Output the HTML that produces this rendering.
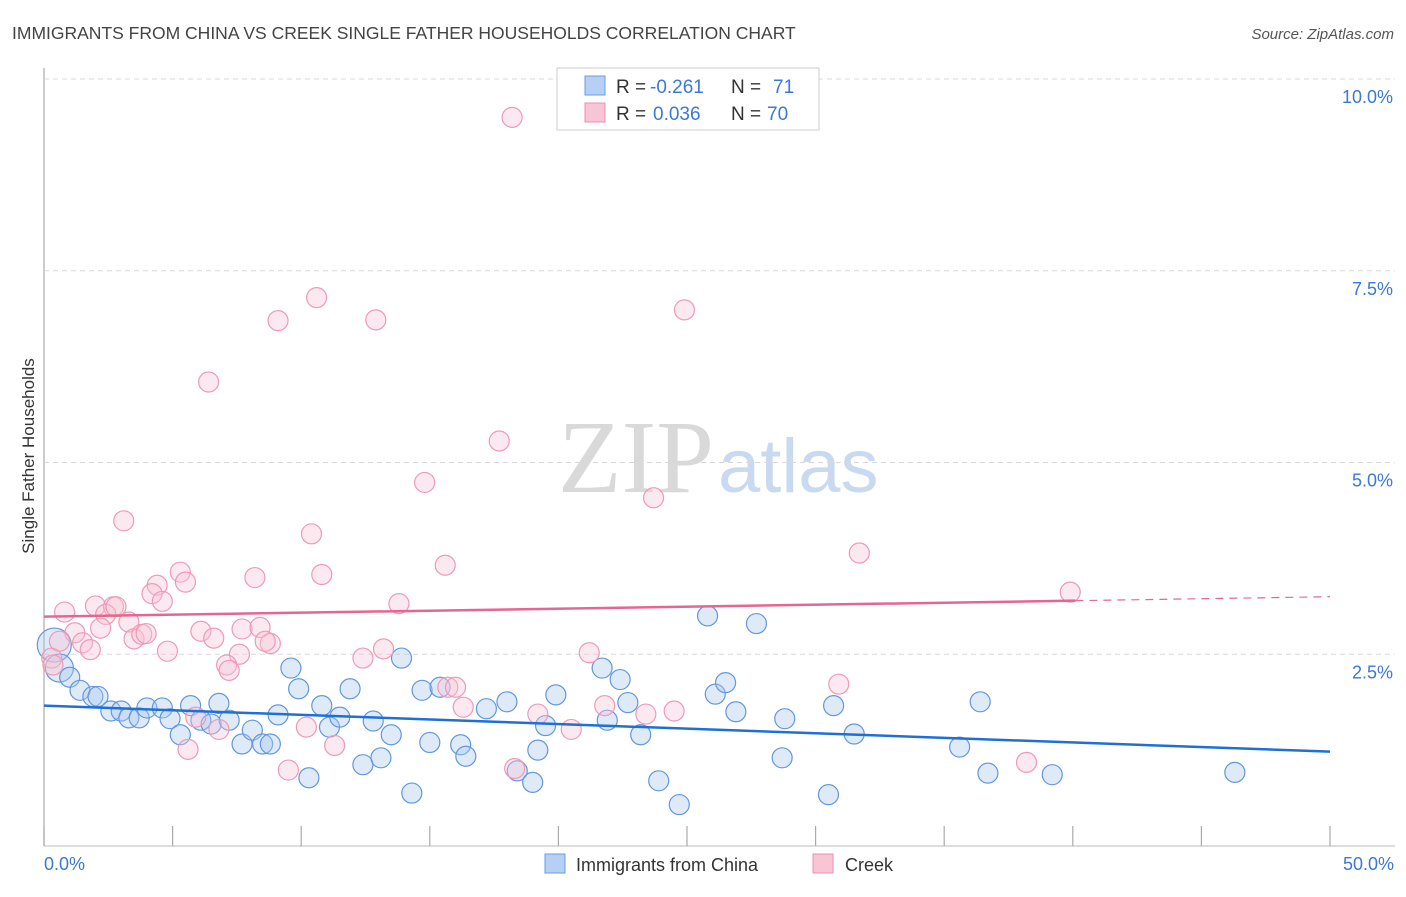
<!DOCTYPE html>
<html><head><meta charset="utf-8"><style>
body{margin:0;background:#fff;font-family:"Liberation Sans",sans-serif}
svg text{font-family:"Liberation Sans",sans-serif}
</style></head><body>
<svg id="chart" width="1406" height="892" xmlns="http://www.w3.org/2000/svg">
<text x="12" y="39" font-size="17.5" fill="#444">IMMIGRANTS FROM CHINA VS CREEK SINGLE FATHER HOUSEHOLDS CORRELATION CHART</text>
<text x="1394" y="39" font-size="15" fill="#555" text-anchor="end" font-style="italic">Source: ZipAtlas.com</text>
<text x="714" y="492" font-size="104" text-anchor="end" fill="#d9d9d9" style="font-family:'Liberation Serif',serif">ZIP</text>
<text x="718" y="492" font-size="76" fill="#c9daf0">atlas</text>
<text transform="translate(34,456) rotate(-90)" font-size="17" fill="#333" text-anchor="middle">Single Father Households</text>
<g id="grid"></g><g id="pts"></g><g id="lines"></g>
<g>
<rect x="557" y="68" width="262" height="62" fill="#fff" stroke="#ccc"/>
<rect x="585" y="76" width="20" height="19" fill="#b5cff5" stroke="#6a9ce0"/>
<rect x="585" y="103" width="20" height="19" fill="#f8c5d5" stroke="#e890ac"/>
<text x="616" y="93" font-size="19" fill="#333">R =</text>
<text x="650" y="93" font-size="19" fill="#3b78d8">-0.261</text>
<text x="731" y="93" font-size="19" fill="#333">N =</text>
<text x="773" y="93" font-size="19" fill="#3b78d8">71</text>
<text x="616" y="120" font-size="19" fill="#333">R =</text>
<text x="653" y="120" font-size="19" fill="#3b78d8">0.036</text>
<text x="731" y="120" font-size="19" fill="#333">N =</text>
<text x="767" y="120" font-size="19" fill="#3b78d8">70</text>
</g>
<g>
<rect x="545" y="854" width="20" height="19" fill="#b5cff5" stroke="#6a9ce0"/>
<text x="576" y="871" font-size="18" fill="#333">Immigrants from China</text>
<rect x="813" y="854" width="20" height="19" fill="#f8c5d5" stroke="#e890ac"/>
<text x="845" y="871" font-size="18" fill="#333">Creek</text>
</g>
</svg>
<script>
const yTicks=[2.5,5.0,7.5,10.0];
const xTickLabels=["0.0%","50.0%"];
const blueX=[0.4,0.6,1.0,1.4,1.9,2.1,2.6,3.0,3.3,3.7,4.0,4.6,4.9,5.3,5.7,6.1,6.5,6.8,7.2,7.7,8.1,8.5,8.8,9.1,9.6,9.9,10.3,10.8,11.1,11.5,11.9,12.4,12.8,13.1,13.5,13.9,14.3,14.7,15.0,15.4,16.2,16.4,17.2,18.0,18.4,19.0,19.2,19.5,19.9,21.7,21.9,22.4,22.7,23.2,23.9,24.7,25.8,26.1,26.5,26.9,27.7,28.7,28.8,30.5,30.7,31.5,35.6,36.4,36.7,39.2,46.3];
const blueY=[2.62,2.32,2.2,2.03,1.95,1.95,1.76,1.76,1.67,1.67,1.8,1.8,1.66,1.45,1.83,1.64,1.59,1.86,1.64,1.33,1.51,1.33,1.33,1.71,2.32,2.05,0.89,1.83,1.55,1.68,2.05,1.06,1.63,1.15,1.45,2.45,0.69,2.03,1.35,2.07,1.32,1.17,1.79,1.88,0.98,0.83,1.25,1.57,1.97,2.32,1.64,2.17,1.87,1.45,0.85,0.54,3.0,1.98,2.13,1.75,2.9,1.15,1.66,0.67,1.83,1.46,1.29,1.88,0.95,0.93,0.96];
const blueR=[17,14,10,10,10,10,10,10,10,10,10,10,10,10,10,10,10,10,10,10,10,10,10,10,10,10,10,10,10,10,10,10,10,10,10,10,10,10,10,10,10,10,10,10,10,10,10,10,10,10,10,10,10,10,10,10,10,10,10,10,10,10,10,10,10,10,10,10,10,10,10];
const pinkX=[18.2,10.6,24.9,9.1,12.9,6.4,17.7,14.8,23.7,3.1,10.4,31.7,15.6,5.3,8.2,10.8,4.4,5.5,4.2,4.6,13.8,39.9,0.8,2.0,2.7,2.4,2.8,3.3,2.2,1.2,1.5,1.8,3.5,3.8,3.97,6.1,6.6,7.7,8.4,8.8,8.6,4.8,7.6,13.2,12.4,21.2,0.3,0.35,7.1,7.2,15.7,16.0,30.9,16.3,21.8,19.2,23.4,24.5,5.9,6.8,10.2,20.5,11.3,5.6,9.5,18.3,38.2,0.6];
const pinkY=[9.5,7.15,6.99,6.85,6.86,6.05,5.28,4.74,4.54,4.24,4.07,3.82,3.66,3.57,3.5,3.54,3.4,3.44,3.29,3.19,3.16,3.31,3.05,3.13,3.12,3.02,3.12,2.92,2.84,2.78,2.65,2.56,2.7,2.76,2.77,2.8,2.71,2.83,2.85,2.64,2.67,2.54,2.5,2.57,2.45,2.52,2.45,2.36,2.36,2.29,2.07,2.07,2.11,1.81,1.83,1.72,1.72,1.76,1.68,1.52,1.55,1.52,1.31,1.26,0.99,1.01,1.09,2.67];
const blueLine=[1.83,1.23];
const pinkLine=[2.99,3.25];
const X0=44,X1=1330,Y0=846,PX=76.7;
function sx(v){return X0+(v/50)*(X1-X0);}
function sy(v){return Y0-v*PX;}
const NS="http://www.w3.org/2000/svg";
function mk(tag,attrs,parent){const e=document.createElementNS(NS,tag);for(const k in attrs)e.setAttribute(k,attrs[k]);parent.appendChild(e);return e;}
const grid=document.getElementById('grid');
const ax=mk('line',{x1:X0,y1:68,x2:X0,y2:Y0,stroke:'#aaa','stroke-width':1.2},grid);


const bx=mk('line',{x1:X0,y1:Y0,x2:1395,y2:Y0,stroke:'#bbb','stroke-width':1},grid);


yTicks.forEach(t=>{
 const g=mk('line',{x1:X0,y1:sy(t),x2:1395,y2:sy(t),stroke:'#d8d8d8','stroke-dasharray':'5,4'},grid);
 
 
 const tx=mk('text',{x:1393,y:sy(t)+24,'font-size':18,fill:'#3b78d8','text-anchor':'end'},grid);
 tx.textContent=t.toFixed(1)+'%';
 
 
});
for(let i=0;i<=10;i++){
 const x=sx(i*5);
 const tk=mk('line',{x1:x,y1:826,x2:x,y2:Y0,stroke:'#aaa','stroke-width':1.2},grid);
 
 
}
[[X0,'start',0],[1394,'end',1]].forEach(([x,a,i])=>{
 const t=mk('text',{x:x,y:870,'font-size':18,fill:'#3b78d8','text-anchor':a},grid);
 t.textContent=xTickLabels[i];
 
 
});
const pts=document.getElementById('pts');
blueX.forEach((v,i)=>{
 const c=mk('circle',{cx:sx(v),cy:sy(blueY[i]),r:blueR[i]||10,fill:'rgba(170,200,240,0.38)',stroke:'#6197de','stroke-width':1.2},pts);
 
 
});
pinkX.forEach((v,i)=>{
 const c=mk('circle',{cx:sx(v),cy:sy(pinkY[i]),r:10,fill:'rgba(248,195,212,0.38)',stroke:'#ee9ab5','stroke-width':1.2},pts);
 
 
});
const lines=document.getElementById('lines');
const bl=mk('line',{x1:sx(0),y1:sy(blueLine[0]),x2:sx(50),y2:sy(blueLine[1]),stroke:'#1f6fd6','stroke-width':2.5},lines);


const pEnd=40.1;
const pMid=pinkLine[0]+(pinkLine[1]-pinkLine[0])*pEnd/50;
const pl=mk('line',{x1:sx(0),y1:sy(pinkLine[0]),x2:sx(pEnd),y2:sy(pMid),stroke:'#e5678f','stroke-width':2.5},lines);


const pd=mk('line',{x1:sx(pEnd),y1:sy(pMid),x2:sx(50),y2:sy(pinkLine[1]),stroke:'#e5678f','stroke-width':1.2,'stroke-dasharray':'8,6'},lines);


</script>
</body></html>
